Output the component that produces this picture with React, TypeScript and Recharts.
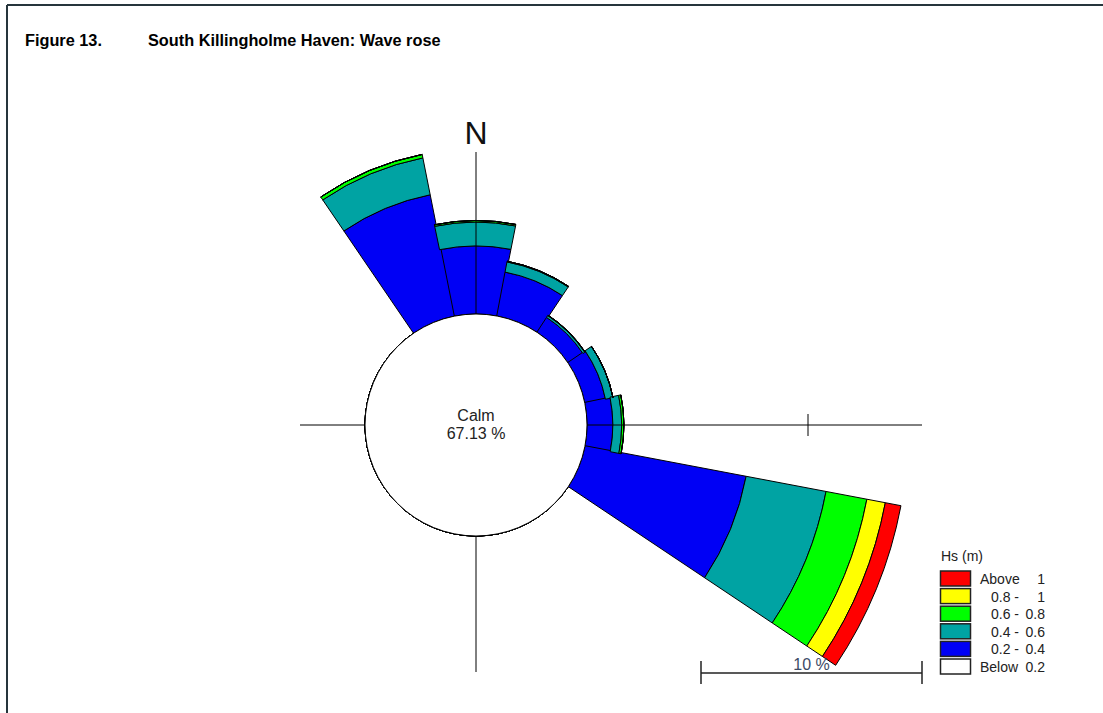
import React from "react";
import { RadialBarChart, RadialBar, PolarAngleAxis, PolarRadiusAxis } from "recharts";

// wave rose, % of time per direction and Hs class
const directions = ["N", "NNE", "NE", "ENE", "E", "ESE", "SE", "SSE", "S", "SSW", "SW", "WSW", "W", "WNW", "NW", "NNW"];
const hs02to04 = [3.08, 2.02, 0.8, 0.95, 1.17, 7.42, 0, 0, 0, 0, 0, 0, 0, 0, 0, 5.6];
const hs04to06 = [1.08, 0.47, 0.1, 0.35, 0.4, 3.68, 0, 0, 0, 0, 0, 0, 0, 0, 0, 1.7];
const hs06to08 = [0.07, 0.03, 0.02, 0, 0.1, 1.88, 0, 0, 0, 0, 0, 0, 0, 0, 0, 0.16];
const hs08to1 = [0, 0, 0, 0, 0, 0.85, 0, 0, 0, 0, 0, 0, 0, 0, 0, 0];
const hsAbove1 = [0, 0, 0, 0, 0, 0.72, 0, 0, 0, 0, 0, 0, 0, 0, 0, 0];
const calmPct = 67.13;
const scalePct = 10;

const legendLeft = ["Above", "0.8 -", "0.6 -", "0.4 -", "0.2 -", "Below"];
const legendRight = ["1", "1", "0.8", "0.6", "0.4", "0.2"];

const data = directions.map((d, i) => ({
  dir: d,
  a: hs02to04[i],
  b: hs04to06[i],
  c: hs06to08[i],
  d: hs08to1[i],
  e: hsAbove1[i],
}));

const W = 1103;
const H = 713;
const CX = 476;
const CY = 425;
const INNER = 111;
const PX_PER_PCT = 22.1;
const MAX_PCT = 20;
const rad = (p: number) => INNER + p * PX_PER_PCT;
// first sector (N) must span 78.75..101.25 deg in recharts' angle system
const START = 90 - 360 / directions.length / 2;

const FONT = "'Liberation Sans', Arial, sans-serif";
const INK = "#222";
const colors = { e: "#ff0000", d: "#ffff00", c: "#00ff00", b: "#00a3a3", a: "#0000f5" };
const legendColors = [colors.e, colors.d, colors.c, colors.b, colors.a, "#ffffff"];

const Overlay = () => (
  <svg width={W} height={H} style={{ position: "absolute", left: 0, top: 0, pointerEvents: "none" }}>
    {/* page frame */}
    <line x1={7} y1={5} x2={W} y2={5} stroke="#26353c" strokeWidth={2} />
    <line x1={7} y1={5} x2={7} y2={H} stroke="#26353c" strokeWidth={2} />

    <text x={25} y={46} fontFamily={FONT} fontWeight="bold" fontSize={16.3} fill="#000">Figure 13.</text>
    <text x={148} y={46} fontFamily={FONT} fontWeight="bold" fontSize={16.3} fill="#000">South Killingholme Haven: Wave rose</text>

    <text x={CX} y={144} textAnchor="middle" fontFamily={FONT} fontSize={32} fill="#111">N</text>

    {/* compass cross */}
    <line x1={CX} y1={152} x2={CX} y2={672} stroke="#000" strokeWidth={1} />
    <line x1={300} y1={CY} x2={CX + rad(scalePct) + 114} y2={CY} stroke="#000" strokeWidth={1} />
    <line x1={CX + rad(scalePct)} y1={CY - 11} x2={CX + rad(scalePct)} y2={CY + 11} stroke="#000" strokeWidth={1} />

    {/* calm circle */}
    <circle cx={CX} cy={CY} r={INNER} fill="#fff" stroke="#000" strokeWidth={1} />
    <text x={CX} y={421} textAnchor="middle" fontFamily={FONT} fontSize={16} fill={INK}>Calm</text>
    <text x={CX} y={439} textAnchor="middle" fontFamily={FONT} fontSize={16} fill={INK}>{calmPct.toFixed(2)} %</text>

    {/* scale bar */}
    <line x1={701} y1={673} x2={701 + scalePct * PX_PER_PCT} y2={673} stroke="#222" strokeWidth={1.5} />
    <line x1={701} y1={661} x2={701} y2={684} stroke="#222" strokeWidth={1.5} />
    <line x1={701 + scalePct * PX_PER_PCT} y1={661} x2={701 + scalePct * PX_PER_PCT} y2={684} stroke="#222" strokeWidth={1.5} />
    <text x={701 + (scalePct * PX_PER_PCT) / 2} y={670} textAnchor="middle" fontFamily={FONT} fontSize={16} fill="#3c4a66">{scalePct} %</text>

    {/* legend */}
    <text x={941} y={561} fontFamily={FONT} fontSize={14} fill={INK}>Hs (m)</text>
    {legendLeft.map((lab, i) => {
      const y = 571 + i * 17.6;
      const numeric = /^[0-9]/.test(lab);
      return (
        <g key={lab + i}>
          <rect x={940.5} y={y} width={30} height={15} fill={legendColors[i]} stroke="#222" strokeWidth={1.5} />
          <text x={numeric ? 991 : 980} y={y + 13} fontFamily={FONT} fontSize={14} fill={INK}>{lab}</text>
          <text x={1045} y={y + 13} textAnchor="end" fontFamily={FONT} fontSize={14} fill={INK}>{legendRight[i]}</text>
        </g>
      );
    })}
  </svg>
);

export default function App() {
  return (
    <div style={{ position: "absolute", left: 0, top: 0, width: W, height: H, background: "#fff" }}>
      <RadialBarChart
        width={W}
        height={H}
        data={data}
        layout="centric"
        cx={CX}
        cy={CY}
        innerRadius={INNER}
        outerRadius={rad(MAX_PCT)}
        startAngle={START}
        endAngle={START - 360}
        barCategoryGap={0}
        barGap={0}
        margin={{ top: 0, right: 0, bottom: 0, left: 0 }}
      >
        <PolarAngleAxis dataKey="dir" type="category" tick={false} axisLine={false} tickLine={false} />
        <PolarRadiusAxis type="number" domain={[0, MAX_PCT]} tickCount={5} tick={false} axisLine={false} tickLine={false} />
        <RadialBar dataKey="a" stackId="hs" fill={colors.a} stroke="#000" strokeWidth={1} isAnimationActive={false} />
        <RadialBar dataKey="b" stackId="hs" fill={colors.b} stroke="#000" strokeWidth={1} isAnimationActive={false} />
        <RadialBar dataKey="c" stackId="hs" fill={colors.c} stroke="#000" strokeWidth={1} isAnimationActive={false} />
        <RadialBar dataKey="d" stackId="hs" fill={colors.d} stroke="#000" strokeWidth={1} isAnimationActive={false} />
        <RadialBar dataKey="e" stackId="hs" fill={colors.e} stroke="#000" strokeWidth={1} isAnimationActive={false} />
      </RadialBarChart>
      <Overlay />
    </div>
  );
}
